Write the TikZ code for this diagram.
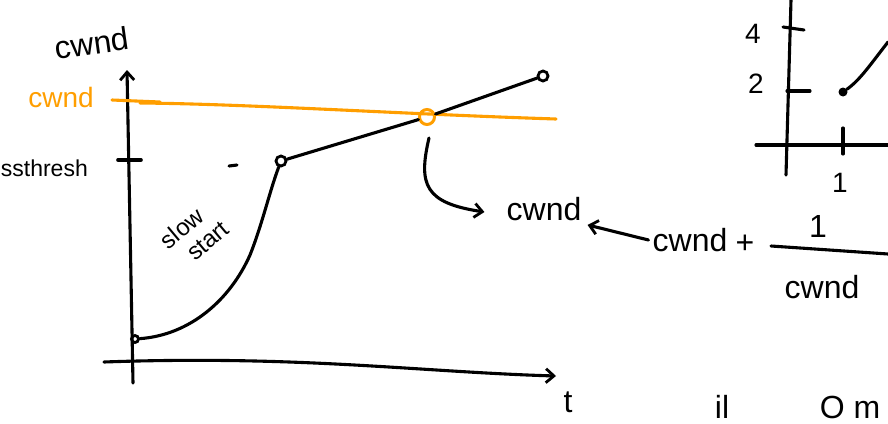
\documentclass[tikz,border=0pt]{standalone}
\usepackage{fontspec}
\setmainfont{Liberation Sans}
\usetikzlibrary{arrows.meta}
\definecolor{pen}{RGB}{0,0,0}
\definecolor{hl}{RGB}{255,158,0}
\tikzset{
  ink/.style={draw=pen, line width=3.1pt, line cap=round, line join=round},
  hlink/.style={draw=hl, line width=3.1pt, line cap=round},
  lbl/.style={inner sep=0pt, font=\fontsize{32}{34}\selectfont},
  midlbl/.style={inner sep=0pt, font=\fontsize{28}{30}\selectfont},
  smalllbl/.style={inner sep=0pt, font=\fontsize{24}{26}\selectfont},
  barb/.style={-{Straight Barb[length=8pt,width=14pt,line width=2.8pt]}},
  dot/.style={circle, draw=pen, line width=2.8pt, minimum size=10pt, inner sep=0pt},
}
\begin{document}
\begin{tikzpicture}[x=1pt,y=-1pt]
\useasboundingbox (0,0) rectangle (888,423);
% main axes
\coordinate (yb) at (133,383);
\coordinate (yt) at (127,70);
\coordinate (xl) at (104,362);
\coordinate (xr) at (556,376);
\draw[ink, barb] (yb) -- (yt);
\draw[ink, barb] (xl) .. controls (300,355) and (420,372) .. (xr);
% axis labels
\node[lbl, rotate=8] (ylab) at (92,43) {cwnd};
\node[midlbl, text=hl] (olab) at (61,97) {cwnd};
\node[inner sep=0pt, font=\fontsize{23}{25}\selectfont, anchor=east] (ss) at (88,168) {ssthresh};
\node[lbl] (tlab) at (568,402) {t};
% orange threshold line
\coordinate (o1) at (112,100);
\coordinate (o2) at (160,102);
\coordinate (o3) at (556,119);
\draw[hlink] (o1) -- (o2);
\draw[hlink] (140,103) .. controls (250,104) and (400,114) .. (o3);
% ssthresh tick and dash
\draw[ink, line width=3.6pt] (118,160) -- (141,160);
\draw[ink] (229,166) -- (237,165);
% slow start curve
\node[dot, minimum size=7pt] (p0) at (135,339) {};
\node[dot] (p1) at (281,161) {};
\node[circle, draw=hl, line width=3pt, minimum size=15pt, inner sep=0pt] (p2) at (427,117) {};
\node[dot] (p3) at (543,76) {};
\draw[ink] (p0) .. controls (190,335) and (230,300) .. (250,255) .. controls (262,225) and (270,190) .. (p1);
\draw[ink] (p1) -- (p2) -- (p3);
% slow start label
\node[smalllbl, rotate=40, align=center] (slowstart) at (190,238) {slow\\\hspace*{24pt}start};
% arrow to cwnd
\node[lbl] (cw) at (544,209) {cwnd};
\coordinate (a0) at (429,138);
\draw[ink, barb] (a0) .. controls (418,185) and (425,203) .. ([xshift=-22pt,yshift=-3pt]cw.west);
% update rule
\node[lbl] (cw2) at (690,240) {cwnd};
\node[lbl] (plus) at (745,244) {+};
\draw[ink, barb] ([xshift=-4pt]cw2.west) -- ([xshift=6pt,yshift=-4pt]cw.south east);
\coordinate (f1) at (771,246);
\coordinate (f2) at (888,254);
\draw[ink] (f1) -- (f2);
\node[lbl] (one) at (818,226) {1};
\node[lbl] (cw3) at (822,287) {cwnd};
% small plot on the right
\coordinate (ry1) at (791,0);
\coordinate (ry2) at (786,175);
\coordinate (rx1) at (756,145);
\coordinate (rx2) at (888,145);
\draw[ink] (ry1) -- (ry2);
\draw[ink] (rx1) -- (rx2);
\draw[ink] (783,27) -- (804,30);
\draw[ink] (787,91) -- (810,91);
\draw[ink] (843,128) -- (843,154);
\node[midlbl] (four) at (753,34) {4};
\node[midlbl] (two) at (756,84) {2};
\node[midlbl] (xone) at (840,183) {1};
\node[circle, fill=pen, minimum size=9pt, inner sep=0pt] (q1) at (843,92) {};
\coordinate (q2) at (888,42);
\draw[ink] (q1) .. controls (860,80) and (870,65) .. (q2);
% bottom partial text
\node[lbl, anchor=base] (bt1) at (722,418) {il};
\node[lbl, anchor=base] (bt2) at (850,418) {O m};
\end{tikzpicture}
\end{document}
